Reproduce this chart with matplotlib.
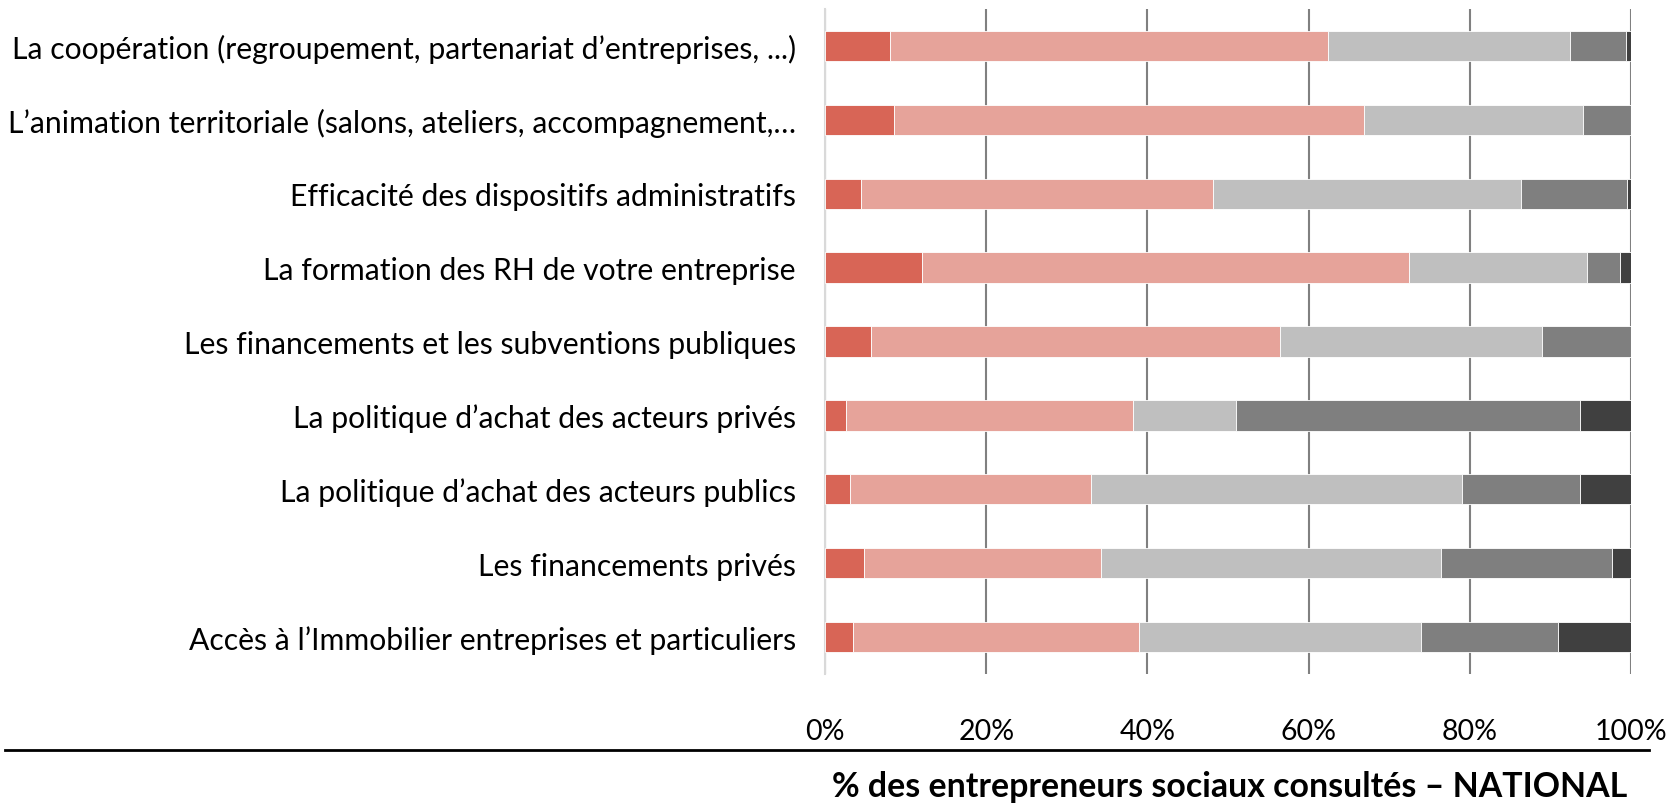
import numpy as np
import matplotlib.pyplot as plt

plt.rcParams['font.family'] = ['Lato', 'DejaVu Sans']

# categories, top to bottom
categories = [
    "La coopération (regroupement, partenariat d\u2019entreprises, ...)",
    "L\u2019animation territoriale (salons, ateliers, accompagnement,\u2026",
    "Efficacité des dispositifs administratifs",
    "La formation des RH de votre entreprise",
    "Les financements et les subventions publiques",
    "La politique d\u2019achat des acteurs privés",
    "La politique d\u2019achat des acteurs publics",
    "Les financements privés",
    "Accès à l\u2019Immobilier entreprises et particuliers",
]

# shares (%) for the five answer levels, same order as categories
level1 = [8.1, 8.5, 4.5, 12.0, 5.7, 2.6, 3.1, 4.8, 3.5]
level2 = [54.3, 58.4, 43.6, 60.4, 50.7, 35.6, 29.9, 29.5, 35.4]
level3 = [30.0, 27.1, 38.2, 22.1, 32.6, 12.8, 46.0, 42.1, 35.1]
level4 = [7.0, 6.0, 13.2, 4.1, 11.0, 42.7, 14.7, 21.2, 16.9]
level5 = [0.6, 0.0, 0.5, 1.4, 0.0, 6.3, 6.3, 2.4, 9.1]

colors = ['#D86556', '#E6A39A', '#BFBFBF', '#7F7F7F', '#404040']
ticks = [0, 20, 40, 60, 80, 100]

fig = plt.figure(figsize=(16.67, 8.04), dpi=100)
ax = fig.add_axes([825 / 1667, 1 - 675 / 804, (1631 - 825) / 1667, 665 / 804])

y = np.arange(len(categories))
left = np.zeros(len(categories))
for vals, c in zip([level1, level2, level3, level4, level5], colors):
    vals = np.array(vals)
    ax.barh(y, vals, left=left, height=0.41, color=c,
            edgecolor='white', linewidth=0.6, zorder=3)
    left += vals

ax.set_ylim(len(categories) - 0.5, -0.5)
ax.set_xlim(0, 100)
ax.set_yticks(y)
ax.set_yticklabels(categories, fontsize=21.7)
ax.set_xticks(ticks)
ax.set_xticklabels([f'{t}%' for t in ticks], fontsize=20.5)
ax.tick_params(axis='y', length=0, pad=21)
ax.tick_params(axis='x', length=0, pad=32)

ax.grid(axis='x', color='#808080', linewidth=1.5, zorder=0)
for s in ['top', 'right', 'bottom']:
    ax.spines[s].set_visible(False)
ax.spines['left'].set_color('#D9D9D9')
ax.spines['left'].set_linewidth(1.5)

# rule under the axis and the source caption
fig.add_artist(plt.Line2D([5 / 1667, 1649 / 1667], [1 - 751 / 804] * 2,
                          color='black', linewidth=2))
fig.text(1627 / 1667, 1 - 787 / 804,
         '% des entrepreneurs sociaux consultés \u2013 NATIONAL',
         ha='right', va='center', fontsize=24.4, fontweight='bold')

fig.savefig('out.png', dpi=100)
